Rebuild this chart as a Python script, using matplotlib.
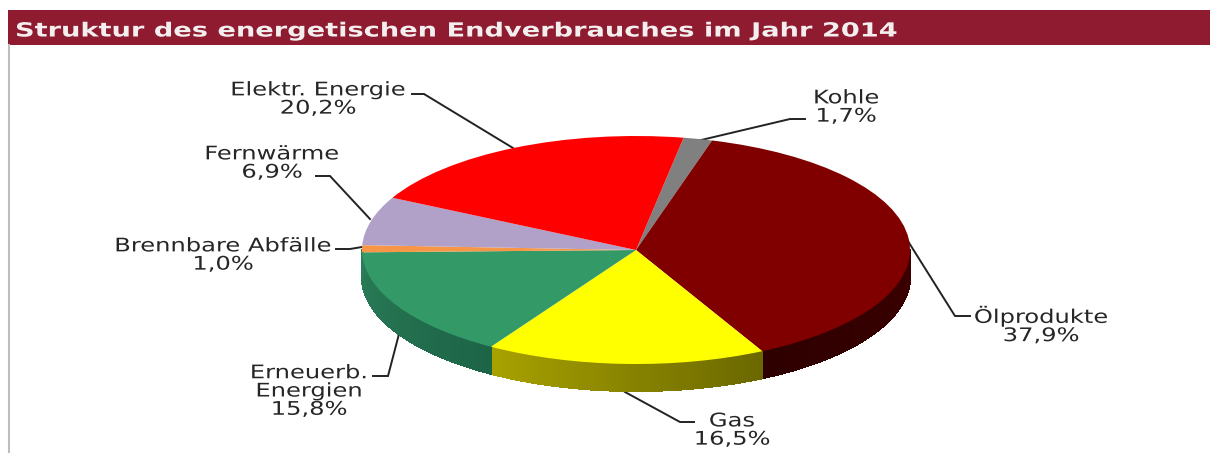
import matplotlib
matplotlib.use("Agg")
import matplotlib.pyplot as plt
import numpy as np
from matplotlib.collections import PolyCollection
from matplotlib.colors import to_rgb
from matplotlib.patheffects import AbstractPathEffect
from matplotlib.transforms import Affine2D

title = "Struktur des energetischen Endverbrauches im Jahr 2014"

# clockwise, starting with Kohle
names = ["Kohle", "Ölprodukte", "Gas", "Erneuerb.\nEnergien", "Brennbare Abfälle", "Fernwärme", "Elektr. Energie"]
shares = [1.7, 37.9, 16.5, 15.8, 1.0, 6.9, 20.2]
colors = ["#808080", "#800000", "#FFFF00", "#339966", "#F79646", "#B1A0C7", "#FF0000"]
wall_left = ["#505050", "#2E0000", "#A8A200", "#2A7D58", "#2A7D58", "#6E6480", "#9F0000"]
wall_right = ["#505050", "#3C0000", "#6A6700", "#1D6447", "#2A7D58", "#6E6480", "#9F0000"]

# pixel layout of the picture
W, H = 1210, 453
cx, cy, rx, ry, depth = 636, 250, 274, 114, 27
label_pos = [(846, 107), (1041, 325), (732, 430), (309, 391), (223, 255), (272, 163), (318, 99)]
leaders = [
    [(805, 119), (790, 119), (697, 141)],
    [(970, 316), (955, 316), (906, 238)],
    [(694, 422), (680, 422), (625, 392)],
    [(373, 376), (388, 376), (399, 334)],
    [(336, 249), (350, 249), (362, 247)],
    [(316, 176), (330, 176), (370, 219)],
    [(412, 94), (424, 94), (513, 148)],
]


class Stretch(AbstractPathEffect):
    """the lettering of the original is wider than any installed font"""

    def __init__(self, x0, sx):
        super().__init__()
        self.x0 = x0
        self.sx = sx

    def draw_path(self, renderer, gc, tpath, affine, rgbFace=None):
        wide = affine + Affine2D().translate(-self.x0, 0).scale(self.sx, 1).translate(self.x0, 0)
        renderer.draw_path(gc, tpath, wide, rgbFace)


fig = plt.figure(figsize=(W / 100, H / 100), dpi=100, facecolor="white")

# pixel axes for banner, border, labels and leader lines
ax = fig.add_axes([0, 0, 1, 1])
ax.set_xlim(0, W)
ax.set_ylim(H, 0)
ax.axis("off")
ax.fill_between([8, W], 10, 45, color="#8E1B30", lw=0)
ax.plot([9, 9], [45, H], color="#BDBDBD", lw=1.5)
ax.text(15, 31, title, color="#F4EEEE", fontsize=14, fontweight="bold", va="center", ha="left",
        path_effects=[Stretch(15, 1.40)])

for name, share, pos, line in zip(names, shares, label_pos, leaders):
    xs, ys = zip(*line)
    ax.plot(xs, ys, color="#222222", lw=1.4, solid_joinstyle="miter")
    label = name + "\n" + f"{share:.1f}".replace(".", ",") + "%"
    ax.text(pos[0], pos[1], label, ha="center", va="center", multialignment="center", fontsize=13.5,
            color="#262626", linespacing=0.95, path_effects=[Stretch(pos[0], 1.29)])

# unit circle axes squeezed into the ellipse of the pie
pie_ax = fig.add_axes([0, 0, 1, 1], zorder=2)
pie_ax.patch.set_alpha(0)
start = 80  # degrees, counted like matplotlib does
pie_ax.pie(shares, colors=colors, startangle=start, counterclock=False, radius=1, wedgeprops={"linewidth": 0})
pie_ax.set_aspect("auto")
pie_ax.set_xlim(-cx / rx, (W - cx) / rx)
pie_ax.set_ylim((cy - H) / ry, cy / ry)
pie_ax.axis("off")

# side wall, only the front half of the rim shows
edges = start - np.cumsum([0] + shares) * 3.6
drop = depth / ry
polys, poly_cols = [], []
for i in range(len(shares)):
    a0, a1 = max(edges[i + 1], -180.0), min(edges[i], 0.0)
    if a1 <= a0:
        continue
    steps = np.linspace(a0, a1, 60)
    for s0, s1 in zip(steps[:-1], steps[1:]):
        t0, t1 = np.radians(s0), np.radians(s1)
        polys.append([(np.cos(t0), np.sin(t0)), (np.cos(t1), np.sin(t1)),
                      (np.cos(t1), np.sin(t1) - drop), (np.cos(t0), np.sin(t0) - drop)])
        f = (s0 - a0) / (a1 - a0)
        poly_cols.append((1 - f) * np.array(to_rgb(wall_left[i])) + f * np.array(to_rgb(wall_right[i])))
pie_ax.add_collection(PolyCollection(polys, facecolors=poly_cols, edgecolors=poly_cols, linewidths=0.8,
                                     antialiaseds=False, zorder=0))

fig.savefig("out.png", dpi=100)
